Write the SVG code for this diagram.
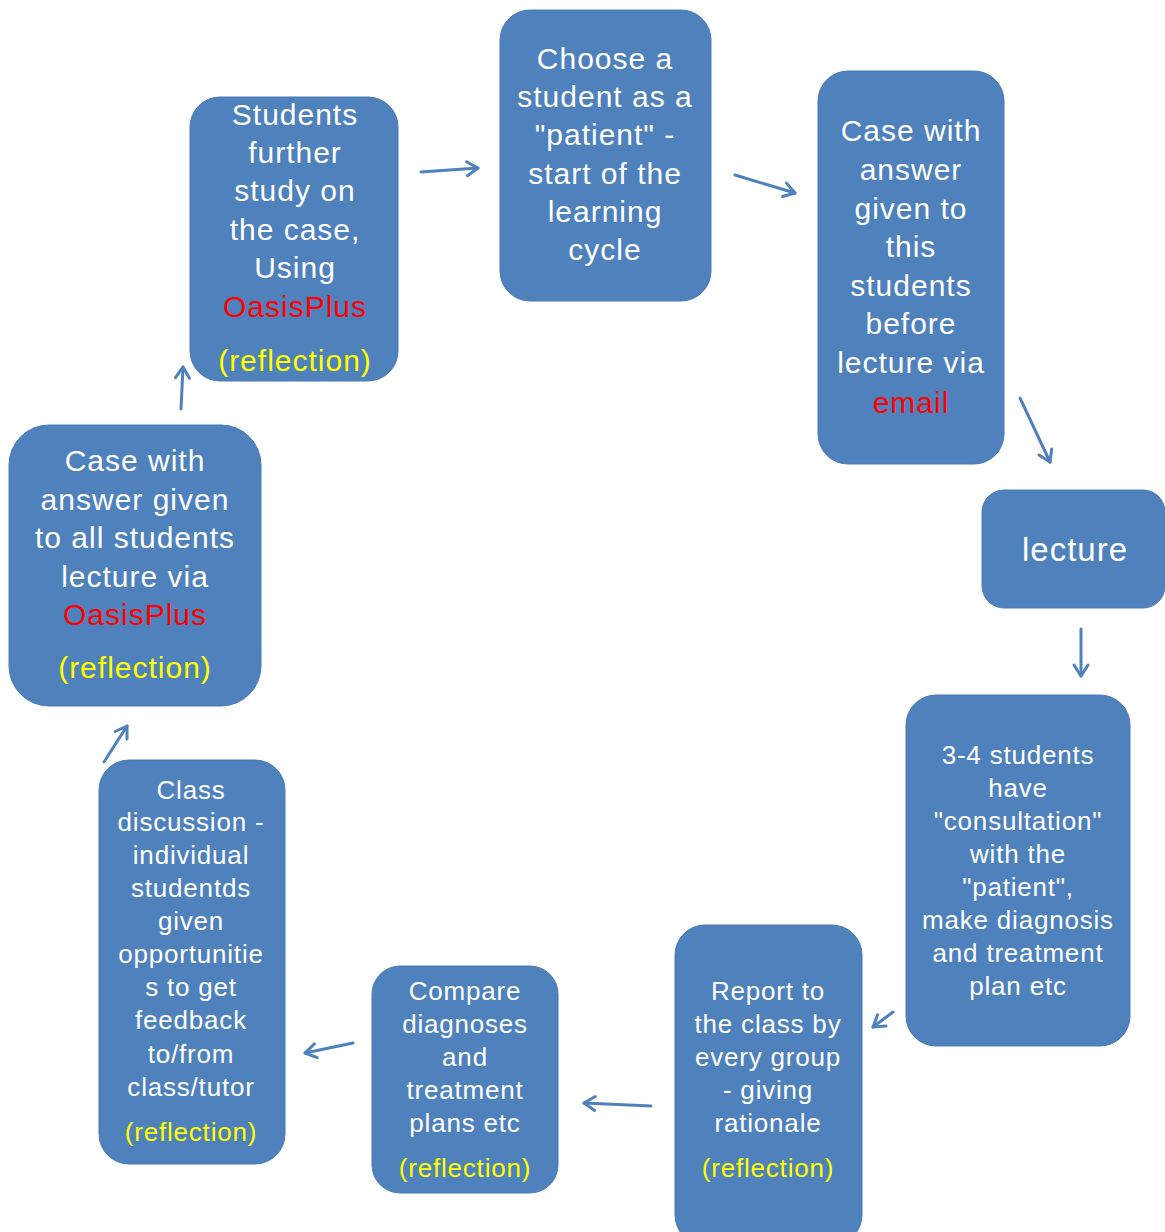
<svg xmlns="http://www.w3.org/2000/svg" width="1165" height="1232" viewBox="0 0 1165 1232">
<defs>
<style>
.box{fill:#4F81BD;stroke:#4A7BB5;stroke-width:1}
.t{font-family:"Liberation Sans","Open Sans",sans-serif;fill:#FFFFFF;text-anchor:middle;font-size:30px;letter-spacing:1px}
.s{font-size:26px;letter-spacing:0.8px}
.red{fill:#FF0000}
.yel{fill:#FFFF00}
.c{stroke:#4F81BD;stroke-width:3;fill:none;stroke-linecap:round}
</style>
<marker id="ah" viewBox="0 0 20 20" refX="17" refY="10" markerWidth="20" markerHeight="20" markerUnits="userSpaceOnUse" orient="auto">
<polyline points="6,3 17,10 6,17" fill="none" stroke="#4F81BD" stroke-width="3" stroke-linecap="round" stroke-linejoin="round"/>
</marker>
</defs>
<rect width="1165" height="1232" fill="#FFFFFF"/>
<g id="n1">
<rect class="box" x="190" y="97" width="208" height="284" rx="30"/>
<text class="t" x="295" y="125">Students</text>
<text class="t" x="295" y="163">further</text>
<text class="t" x="295" y="201">study on</text>
<text class="t" x="295" y="240">the case,</text>
<text class="t" x="295" y="278">Using</text>
<text class="t red" x="295" y="317">OasisPlus</text>
<text class="t yel" x="295" y="371">(reflection)</text>
</g>
<g id="n2">
<rect class="box" x="500" y="10" width="211" height="291" rx="30"/>
<text class="t" x="605" y="69">Choose a</text>
<text class="t" x="605" y="107">student as a</text>
<text class="t" x="605" y="145">"patient" -</text>
<text class="t" x="605" y="184">start of the</text>
<text class="t" x="605" y="222">learning</text>
<text class="t" x="605" y="260">cycle</text>
</g>
<g id="n3">
<rect class="box" x="818" y="71" width="186" height="393" rx="30"/>
<text class="t" x="911" y="141">Case with</text>
<text class="t" x="911" y="180">answer</text>
<text class="t" x="911" y="219">given to</text>
<text class="t" x="911" y="257">this</text>
<text class="t" x="911" y="296">students</text>
<text class="t" x="911" y="334">before</text>
<text class="t" x="911" y="373">lecture via</text>
<text class="t red" x="911" y="413">email</text>
</g>
<g id="n4">
<rect class="box" x="982" y="490" width="183" height="118" rx="22"/>
<text class="t" x="1075" y="561" style="font-size:33px">lecture</text>
</g>
<g id="n5">
<rect class="box" x="906" y="695" width="224" height="351" rx="30"/>
<text class="t s" x="1018" y="764">3-4 students</text>
<text class="t s" x="1018" y="797">have</text>
<text class="t s" x="1018" y="830">"consultation"</text>
<text class="t s" x="1018" y="863">with the</text>
<text class="t s" x="1018" y="896">"patient",</text>
<text class="t s" x="1018" y="929">make diagnosis</text>
<text class="t s" x="1018" y="962">and treatment</text>
<text class="t s" x="1018" y="995">plan etc</text>
</g>
<g id="n6">
<rect class="box" x="675" y="925" width="187" height="320" rx="30"/>
<text class="t s" x="768" y="1000">Report to</text>
<text class="t s" x="768" y="1033">the class by</text>
<text class="t s" x="768" y="1066">every group</text>
<text class="t s" x="768" y="1099">- giving</text>
<text class="t s" x="768" y="1132">rationale</text>
<text class="t s yel" x="768" y="1177">(reflection)</text>
</g>
<g id="n7">
<rect class="box" x="372" y="966" width="186" height="227" rx="28"/>
<text class="t s" x="465" y="1000">Compare</text>
<text class="t s" x="465" y="1033">diagnoses</text>
<text class="t s" x="465" y="1066">and</text>
<text class="t s" x="465" y="1099">treatment</text>
<text class="t s" x="465" y="1132">plans etc</text>
<text class="t s yel" x="465" y="1177">(reflection)</text>
</g>
<g id="n8">
<rect class="box" x="99" y="760" width="186" height="404" rx="30"/>
<text class="t s" x="191" y="799">Class</text>
<text class="t s" x="191" y="831">discussion -</text>
<text class="t s" x="191" y="864">individual</text>
<text class="t s" x="191" y="897">studentds</text>
<text class="t s" x="191" y="930">given</text>
<text class="t s" x="191" y="963">opportunitie</text>
<text class="t s" x="191" y="996">s to get</text>
<text class="t s" x="191" y="1029">feedback</text>
<text class="t s" x="191" y="1063">to/from</text>
<text class="t s" x="191" y="1096">class/tutor</text>
<text class="t s yel" x="191" y="1141">(reflection)</text>
</g>
<g id="n9">
<rect class="box" x="9" y="425" width="252" height="281" rx="40"/>
<text class="t" x="135" y="471">Case with</text>
<text class="t" x="135" y="510">answer given</text>
<text class="t" x="135" y="548">to all students</text>
<text class="t" x="135" y="587">lecture via</text>
<text class="t red" x="135" y="625">OasisPlus</text>
<text class="t yel" x="135" y="678">(reflection)</text>
</g>
<g id="connectors">
<line class="c" x1="421" y1="172" x2="478" y2="168" marker-end="url(#ah)"/>
<line class="c" x1="735" y1="175" x2="795" y2="193" marker-end="url(#ah)"/>
<line class="c" x1="1020" y1="398" x2="1050" y2="462" marker-end="url(#ah)"/>
<line class="c" x1="1081" y1="629" x2="1081" y2="676" marker-end="url(#ah)"/>
<line class="c" x1="893" y1="1012" x2="873" y2="1027" marker-end="url(#ah)"/>
<line class="c" x1="651" y1="1106" x2="584" y2="1103" marker-end="url(#ah)"/>
<line class="c" x1="353" y1="1043" x2="305" y2="1053" marker-end="url(#ah)"/>
<line class="c" x1="104" y1="762" x2="127" y2="726" marker-end="url(#ah)"/>
<line class="c" x1="181" y1="409" x2="183" y2="367" marker-end="url(#ah)"/>
</g>
</svg>
